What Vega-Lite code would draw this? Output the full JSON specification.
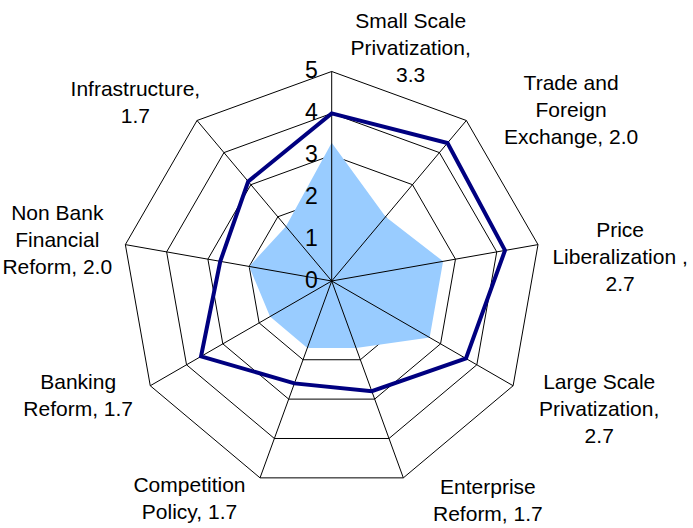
{
  "$schema": "https://vega.github.io/schema/vega-lite/v6.json",
  "width": 693,
  "height": 528,
  "autosize": "none",
  "padding": 0,
  "background": "white",
  "config": {"view": {"stroke": null}},
  "datasets": {
    "cats": [
      {"cat": "Small Scale Privatization", "i": 0, "label": "Small Scale\nPrivatization,\n3.3", "actual": 3.3, "bench": 4.0, "rings": [1, 2, 3, 4, 5]},
      {"cat": "Trade and Foreign Exchange", "i": 1, "label": "Trade and\nForeign\nExchange, 2.0", "actual": 2.0, "bench": 4.3, "rings": [1, 2, 3, 4, 5]},
      {"cat": "Price Liberalization", "i": 2, "label": "Price\nLiberalization ,\n2.7", "actual": 2.7, "bench": 4.2, "rings": [1, 2, 3, 4, 5]},
      {"cat": "Large Scale Privatization", "i": 3, "label": "Large Scale\nPrivatization,\n2.7", "actual": 2.7, "bench": 3.7, "rings": [1, 2, 3, 4, 5]},
      {"cat": "Enterprise Reform", "i": 4, "label": "Enterprise\nReform, 1.7", "actual": 1.7, "bench": 2.8, "rings": [1, 2, 3, 4, 5]},
      {"cat": "Competition Policy", "i": 5, "label": "Competition\nPolicy, 1.7", "actual": 1.7, "bench": 2.6, "rings": [1, 2, 3, 4, 5]},
      {"cat": "Banking Reform", "i": 6, "label": "Banking\nReform, 1.7", "actual": 1.7, "bench": 3.6, "rings": [1, 2, 3, 4, 5]},
      {"cat": "Non Bank Financial Reform", "i": 7, "label": "Non Bank\nFinancial\nReform, 2.0", "actual": 2.0, "bench": 2.7, "rings": [1, 2, 3, 4, 5]},
      {"cat": "Infrastructure", "i": 8, "label": "Infrastructure,\n1.7", "actual": 1.7, "bench": 3.1, "rings": [1, 2, 3, 4, 5]}
    ],
    "ticks": [{"t": 0}, {"t": 1}, {"t": 2}, {"t": 3}, {"t": 4}, {"t": 5}]
  },
  "layer": [
    {
      "data": {"name": "cats"},
      "transform": [
        {"flatten": ["rings"], "as": ["level"]},
        {"calculate": "datum.i*2*PI/9", "as": "a"},
        {"calculate": "datum.level*sin(datum.a)", "as": "px"},
        {"calculate": "datum.level*cos(datum.a)", "as": "py"}
      ],
      "mark": {"type": "line", "interpolate": "linear-closed", "color": "black", "strokeWidth": 1},
      "encoding": {
        "x": {"field": "px", "type": "quantitative", "scale": {"domain": [-7.916, 8.623], "nice": false, "zero": false}, "axis": null},
        "y": {"field": "py", "type": "quantitative", "scale": {"domain": [-5.895, 6.706], "nice": false, "zero": false}, "axis": null},
        "detail": {"field": "level"},
        "order": {"field": "i"}
      }
    },
    {
      "data": {"name": "cats"},
      "transform": [
        {"calculate": "datum.i*2*PI/9", "as": "a"},
        {"calculate": "datum.actual*sin(datum.a)", "as": "px"},
        {"calculate": "datum.actual*cos(datum.a)", "as": "py"}
      ],
      "mark": {"type": "line", "interpolate": "linear-closed", "filled": true, "color": "#99CCFF", "strokeWidth": 0},
      "encoding": {
        "x": {"field": "px", "type": "quantitative", "axis": null},
        "y": {"field": "py", "type": "quantitative", "axis": null},
        "order": {"field": "i"}
      }
    },
    {
      "data": {"name": "cats"},
      "transform": [
        {"calculate": "datum.i*2*PI/9", "as": "a"},
        {"calculate": "5*sin(datum.a)", "as": "px"},
        {"calculate": "5*cos(datum.a)", "as": "py"}
      ],
      "mark": {"type": "rule", "color": "black", "strokeWidth": 1},
      "encoding": {
        "x": {"field": "px", "type": "quantitative", "axis": null},
        "y": {"field": "py", "type": "quantitative", "axis": null},
        "x2": {"datum": 0},
        "y2": {"datum": 0}
      }
    },
    {
      "data": {"name": "cats"},
      "transform": [
        {"calculate": "datum.i*2*PI/9", "as": "a"},
        {"calculate": "datum.bench*sin(datum.a)", "as": "px"},
        {"calculate": "datum.bench*cos(datum.a)", "as": "py"}
      ],
      "mark": {"type": "line", "interpolate": "linear-closed", "color": "#000080", "strokeWidth": 4},
      "encoding": {
        "x": {"field": "px", "type": "quantitative", "axis": null},
        "y": {"field": "py", "type": "quantitative", "axis": null},
        "order": {"field": "i"}
      }
    },
    {
      "data": {"name": "ticks"},
      "mark": {"type": "text", "align": "right", "baseline": "middle", "dx": -14, "fontSize": 23, "font": "Liberation Sans", "color": "black"},
      "encoding": {
        "x": {"datum": 0, "type": "quantitative"},
        "y": {"field": "t", "type": "quantitative"},
        "text": {"field": "t", "type": "quantitative"}
      }
    },
    {
      "data": {"name": "cats"},
      "transform": [
        {"calculate": "datum.i*2*PI/9", "as": "a"},
        {"calculate": "6.778*(sin(datum.a) >= 0 ? 1 : -1)*pow(abs(sin(datum.a)), 0.6) + 0.167 + 1.718*pow(max(cos(datum.a), 0), 6)", "as": "lx"},
        {"calculate": "5.537*cos(datum.a) - 0.42*pow(max(sin(datum.a), 0), 2) + (length(split(datum.label, '\\n')) - 1)*0.3222", "as": "ly"}
      ],
      "mark": {"type": "text", "align": "center", "baseline": "middle", "lineBreak": "\n", "lineHeight": 27, "fontSize": 21, "font": "Liberation Sans", "color": "black"},
      "encoding": {
        "x": {"field": "lx", "type": "quantitative"},
        "y": {"field": "ly", "type": "quantitative"},
        "text": {"field": "label", "type": "nominal"}
      }
    }
  ]
}
